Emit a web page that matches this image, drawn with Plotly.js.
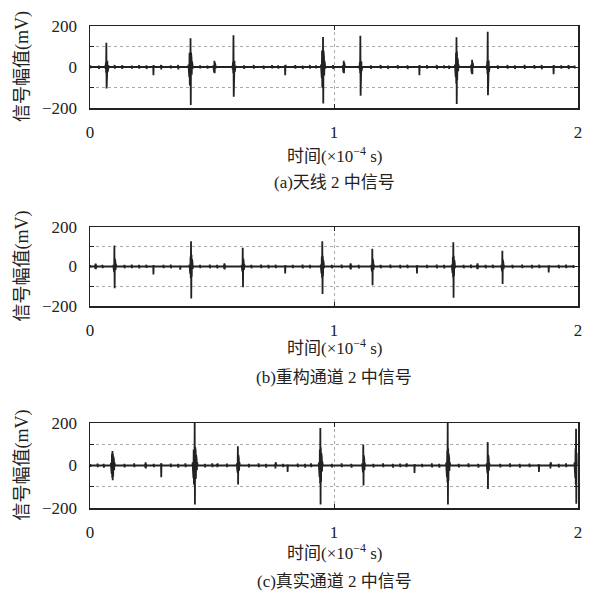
<!DOCTYPE html>
<html>
<head>
<meta charset="utf-8">
<script src="https://cdn.plot.ly/plotly-3.0.1.min.js"></script>
<style>html,body{margin:0;padding:0;background:#fff;}#chart{width:592px;height:594px;}</style>
</head>
<body>
<div id="chart"></div>
<script>
// sample spacing, in units of 1e-4 s
const dt = 0.001;

// Panel (a) 天线2中信号 : burst start times and sampled amplitudes (mV)
const aStart = [0.0, 0.035, 0.062, 0.10, 0.13, 0.17, 0.20, 0.23, 0.258, 0.29, 0.33, 0.36, 0.403, 0.45, 0.48, 0.505, 0.583, 0.63, 0.67, 0.71, 0.745, 0.77, 0.798, 0.84, 0.87, 0.90, 0.925, 0.946, 0.995, 1.035, 1.103, 1.15, 1.19, 1.22, 1.26, 1.30, 1.348, 1.38, 1.42, 1.45, 1.47, 1.495, 1.561, 1.625, 1.67, 1.71, 1.74, 1.78, 1.82, 1.85, 1.898, 1.93, 1.96, 1.985];
const aWave = [
  [0,8,-6,0],[0,7,-9,0],
  [0,8,-10,22,-28,118,-105,45,-40,30,-25,18,-14,10,-6,4,0],
  [0,10,-8,0],[0,8,-10,6,0],[0,7,-8,0],[0,9,-8,0],[0,8,-10,0],
  [0,6,-40,8,-6,0],
  [0,10,-12,8,0],[0,8,-7,0],[0,10,-12,0],
  [0,12,-16,40,-50,70,-85,80,-90,140,-185,70,-60,45,-38,28,-20,12,-8,4,0],
  [0,8,-7,0],[0,7,-8,0],
  [0,8,-10,22,-26,30,-30,20,-16,10,-6,0],
  [0,8,-12,25,-30,155,-145,50,-42,30,-24,16,-10,6,0],
  [0,8,-9,0],[0,10,-8,0],[0,7,-10,0],[0,9,-7,0],[0,8,-8,0],
  [0,6,-40,10,-8,4,0],
  [0,9,-8,0],[0,7,-10,0],[0,10,-8,0],[0,8,-7,0],
  [0,12,-18,45,-55,80,-95,90,-100,146,-178,80,-70,50,-42,30,-22,14,-8,4,0],
  [0,9,-10,0],
  [0,8,-12,24,-28,30,-30,20,-15,8,-4,0],
  [0,8,-12,25,-30,152,-140,45,-38,28,-20,12,-6,0],
  [0,8,-9,0],[0,10,-8,0],[0,7,-10,0],[0,9,-8,0],[0,8,-10,0],
  [0,6,-40,8,-6,0],
  [0,9,-8,0],[0,10,-10,0],[0,8,-7,0],[0,7,-9,0],
  [0,12,-18,40,-50,70,-80,145,-180,75,-65,45,-38,28,-20,12,-6,0],
  [0,10,-14,28,-32,35,-35,22,-16,8,-4,0],
  [0,8,-12,28,-35,172,-138,55,-45,32,-24,15,-8,4,0],
  [0,8,-9,0],[0,10,-8,0],[0,8,-10,0],[0,11,-9,0],[0,9,-8,0],[0,10,-11,0],
  [0,6,-35,8,-5,0],
  [0,8,-8,0],[0,9,-10,0],[0,7,-7,0]
];

// Panel (b) 重构通道2中信号
const bStart = [0.0, 0.02, 0.05, 0.095, 0.14, 0.17, 0.20, 0.23, 0.258, 0.30, 0.33, 0.368, 0.407, 0.45, 0.49, 0.52, 0.548, 0.621, 0.66, 0.70, 0.73, 0.76, 0.798, 0.83, 0.87, 0.90, 0.945, 0.99, 1.03, 1.065, 1.10, 1.152, 1.19, 1.23, 1.27, 1.30, 1.338, 1.38, 1.42, 1.45, 1.482, 1.53, 1.56, 1.585, 1.62, 1.65, 1.685, 1.73, 1.77, 1.81, 1.84, 1.878, 1.92, 1.95, 1.98];
const bWave = [
  [0,7,-6,0],
  [0,8,-12,15,-14,10,-6,0],
  [0,8,-8,0],
  [0,8,-12,22,-28,106,-110,40,-34,24,-18,12,-7,4,0],
  [0,8,-9,0],[0,10,-8,0],[0,8,-10,0],[0,9,-7,0],
  [0,5,-40,6,-4,0],
  [0,8,-8,0],[0,10,-9,0],
  [0,5,-16,4,0],
  [0,10,-14,30,-38,50,-60,128,-162,60,-52,38,-30,20,-12,6,0],
  [0,8,-8,0],[0,10,-9,0],[0,8,-10,0],
  [0,8,-12,16,-15,10,-6,0],
  [0,8,-12,20,-26,95,-105,40,-34,24,-18,10,-5,0],
  [0,8,-9,0],[0,10,-8,0],[0,8,-10,0],[0,9,-8,0],
  [0,5,-35,6,-4,0],
  [0,8,-8,0],[0,10,-10,0],[0,8,-9,0],
  [0,10,-14,28,-36,50,-58,128,-139,55,-48,34,-26,16,-8,4,0],
  [0,8,-9,0],[0,10,-8,0],
  [0,8,-12,16,-15,10,-5,0],
  [0,8,-10,0],
  [0,8,-12,20,-26,90,-95,38,-32,22,-16,9,-4,0],
  [0,8,-9,0],[0,10,-8,0],[0,8,-10,0],[0,9,-8,0],
  [0,5,-35,6,-4,0],
  [0,8,-8,0],[0,10,-9,0],[0,8,-10,0],
  [0,10,-14,28,-34,48,-56,123,-158,55,-48,34,-26,16,-8,4,0],
  [0,8,-9,0],[0,10,-8,0],
  [0,8,-12,16,-14,9,-5,0],
  [0,8,-9,0],[0,9,-8,0],
  [0,8,-10,18,-24,80,-88,35,-30,20,-14,8,-4,0],
  [0,8,-9,0],[0,10,-8,0],[0,8,-10,0],[0,9,-8,0],
  [0,5,-30,5,-3,0],
  [0,8,-9,0],[0,10,-8,0],[0,7,-7,0]
];

// Panel (c) 真实通道2中信号
const cStart = [0.0, 0.03, 0.055, 0.085, 0.14, 0.18, 0.225, 0.26, 0.29, 0.33, 0.36, 0.39, 0.42, 0.47, 0.50, 0.52, 0.56, 0.601, 0.65, 0.69, 0.72, 0.758, 0.79, 0.808, 0.85, 0.88, 0.905, 0.937, 0.99, 1.03, 1.07, 1.115, 1.16, 1.20, 1.24, 1.27, 1.295, 1.328, 1.36, 1.40, 1.43, 1.459, 1.51, 1.55, 1.59, 1.625, 1.68, 1.72, 1.76, 1.80, 1.838, 1.885, 1.92, 1.95, 1.985];
const cWave = [
  [0,7,-6,0],[0,9,-8,0],[0,8,-10,0],
  [0,12,-15,35,-40,55,-58,68,-69,55,-52,42,-38,28,-22,14,-8,4,0],
  [0,8,-9,0],[0,10,-8,0],
  [0,8,-12,15,-14,8,-4,0],
  [0,8,-8,0],
  [0,10,-55,8,-5,0],
  [0,9,-8,0],[0,8,-10,0],[0,10,-8,0],
  [0,15,-22,50,-60,75,-85,80,-90,200,-183,85,-80,70,-62,50,-42,30,-22,14,-8,4,0],
  [0,8,-9,0],[0,10,-8,0],
  [0,6,-8,10,-8,0],
  [0,9,-8,0],
  [0,10,-14,28,-34,91,-89,50,-44,32,-25,16,-9,4,0],
  [0,8,-9,0],[0,10,-8,0],[0,8,-10,0],
  [0,8,-14,15,-12,6,0],
  [0,8,-8,0],
  [0,5,-30,5,0],
  [0,9,-8,0],[0,8,-10,0],[0,10,-8,0],
  [0,14,-20,45,-55,75,-85,177,-183,85,-78,60,-50,38,-28,18,-10,4,0],
  [0,8,-9,0],[0,10,-8,0],[0,8,-10,0],
  [0,10,-14,26,-32,99,-94,48,-40,30,-22,14,-7,0],
  [0,8,-9,0],[0,10,-8,0],[0,8,-10,0],[0,9,-8,0],
  [0,6,-8,10,-8,0],
  [0,5,-35,6,0],
  [0,8,-8,0],[0,10,-9,0],[0,8,-10,0],
  [0,14,-20,45,-55,70,-80,200,-183,80,-72,55,-48,36,-26,16,-8,4,0],
  [0,8,-9,0],[0,10,-8,0],[0,8,-10,0],
  [0,10,-14,28,-36,110,-110,50,-44,32,-24,14,-7,0],
  [0,8,-9,0],[0,10,-8,0],[0,8,-10,0],[0,9,-8,0],
  [0,6,-30,5,0],
  [0,8,-14,15,-12,6,0],
  [0,8,-9,0],[0,10,-8,0],
  [0,15,-22,50,-60,80,-90,173,-180,60,0]
];

const xTicks = [0, 1, 2];
const xTickText = ['0', '1', '2'];
const yTicks = [-200, 0, 200];
const yTickText = ['\u2212200', '0', '200'];
const yTitle = '信号幅值(mV)';
const xTitle = '时间(×10<sup>−4</sup> s)';
const captions = ['(a)天线 2 中信号', '(b)重构通道 2 中信号', '(c)真实通道 2 中信号'];

function build(starts, waves) {
  const x = [], y = [];
  starts.forEach((s, k) => {
    waves[k].forEach((v, i) => { x.push(s + i * dt); y.push(v); });
  });
  return {x, y};
}

const series = [build(aStart, aWave), build(bStart, bWave), build(cStart, cWave)];
const axN = ['', '2', '3'];

const fam = '"Liberation Serif", "Noto Sans CJK SC", serif';
const traces = series.map((s, i) => ({
  x: s.x, y: s.y, type: 'scatter', mode: 'lines',
  line: {color: '#222', width: 1.8},
  xaxis: 'x' + axN[i], yaxis: 'y' + axN[i],
  hoverinfo: 'skip', showlegend: false
}));

const plotTop = 26, plotBot = 508, plotH = plotBot - plotTop;
const panels = [[26, 108], [227, 306], [423, 508]];
const pY = py => (plotBot - py) / plotH;

const layout = {
  width: 592, height: 594,
  margin: {l: 90, r: 14, t: plotTop, b: 594 - plotBot},
  paper_bgcolor: '#fff', plot_bgcolor: '#fff',
  showlegend: false,
  font: {family: fam, color: '#222', size: 16},
  annotations: []
};

const xTitleY = [155, 347, 552];
const capY = [183, 377, 581];
const gridC = '#aaa';

panels.forEach((p, i) => {
  const xa = {
    domain: [0, 1], range: [0, 2], anchor: 'y' + axN[i],
    tickvals: xTicks, ticktext: xTickText,
    ticks: 'inside', ticklen: 4, tickwidth: 1, tickcolor: '#222',
    showline: true, linecolor: '#222', linewidth: 1.5, mirror: 'ticks',
    showgrid: true, gridcolor: gridC, gridwidth: 1, griddash: 'dot',
    zeroline: false, ticklabelstandoff: 8,
    tickfont: {family: fam, size: 17, color: '#222'}
  };
  const ya = {
    domain: [pY(p[1]), pY(p[0])], range: [-200, 200], anchor: 'x' + axN[i],
    tickvals: yTicks, ticktext: yTickText,
    ticks: 'inside', ticklen: 4, tickwidth: 1, tickcolor: '#222',
    showline: true, linecolor: '#222', linewidth: 1.5, mirror: 'ticks',
    showgrid: false,
    minor: {dtick: 100, ticks: 'inside', ticklen: 4, tickcolor: '#222',
            showgrid: true, gridcolor: gridC, gridwidth: 1, griddash: 'dot'},
    zeroline: false, ticklabelstandoff: 8,
    tickfont: {family: fam, size: 17, color: '#222'}
  };
  layout['xaxis' + axN[i]] = xa;
  layout['yaxis' + axN[i]] = ya;

  layout.annotations.push({
    text: yTitle, textangle: -90, xref: 'paper', yref: 'paper',
    x: (22 - 90) / 488, y: pY((p[0] + p[1]) / 2), xanchor: 'center', yanchor: 'middle',
    showarrow: false, font: {family: fam, size: 18, color: '#222'}
  });
  layout.annotations.push({
    text: xTitle, xref: 'paper', yref: 'paper',
    x: 0.5, y: pY(xTitleY[i]), xanchor: 'center', yanchor: 'middle',
    showarrow: false, font: {family: fam, size: 17, color: '#222'}
  });
  layout.annotations.push({
    text: captions[i], xref: 'paper', yref: 'paper',
    x: 0.5, y: pY(capY[i]), xanchor: 'center', yanchor: 'middle',
    showarrow: false, font: {family: fam, size: 17, color: '#222'}
  });
});

Plotly.newPlot('chart', traces, layout, {staticPlot: true, displayModeBar: false});
</script>
</body>
</html>
